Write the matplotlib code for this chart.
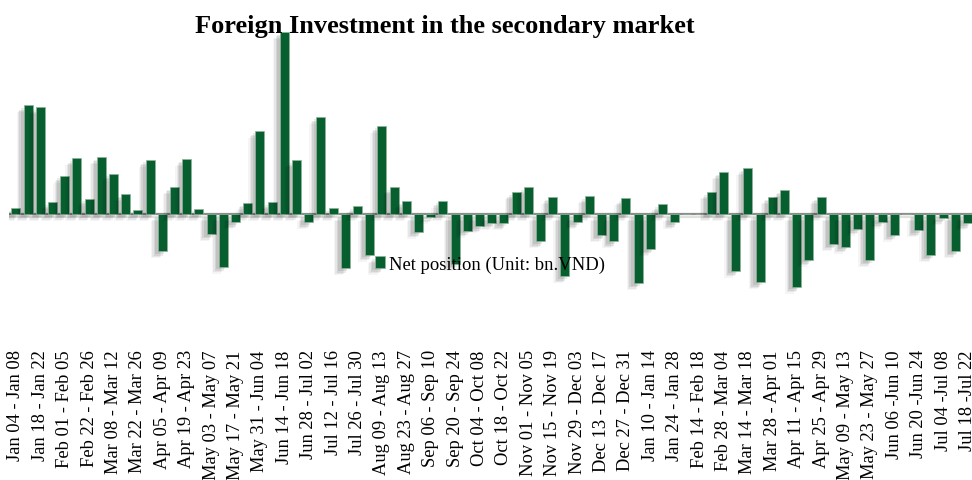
import matplotlib
matplotlib.use("Agg")
import matplotlib.pyplot as plt
import matplotlib.patheffects as pe
import numpy as np

plt.rcParams['font.family'] = ['Liberation Serif', 'DejaVu Serif']

weeks = [
    "Jan 04 - Jan 08", "Jan 11 - Jan 15", "Jan 18 - Jan 22", "Jan 25 - Jan 29",
    "Feb 01 - Feb 05", "Feb 08 - Feb 12", "Feb 22 - Feb 26", "Mar 01 - Mar 05",
    "Mar 08 - Mar 12", "Mar 15 - Mar 19", "Mar 22 - Mar 26", "Mar 29 - Apr 02",
    "Apr 05 - Apr 09", "Apr 12 - Apr 16", "Apr 19 - Apr 23", "Apr 26 - Apr 30",
    "May 03 - May 07", "May 10 - May 14", "May 17 - May 21", "May 24 - May 28",
    "May 31 - Jun 04", "Jun 07 - Jun 11", "Jun 14 - Jun 18", "Jun 21 - Jun 25",
    "Jun 28 - Jul 02", "Jul 05 - Jul 09", "Jul 12 - Jul 16", "Jul 19 - Jul 23",
    "Jul 26 - Jul 30", "Aug 02 - Aug 06", "Aug 09 - Aug 13", "Aug 16 - Aug 20",
    "Aug 23 - Aug 27", "Aug 30 - Sep 03", "Sep 06 - Sep 10", "Sep 13 - Sep 17",
    "Sep 20 - Sep 24", "Sep 27 - Oct 01", "Oct 04 - Oct 08", "Oct 11 - Oct 15",
    "Oct 18 - Oct 22", "Oct 25 - Oct 29", "Nov 01 - Nov 05", "Nov 08 - Nov 12",
    "Nov 15 - Nov 19", "Nov 22 - Nov 26", "Nov 29 - Dec 03", "Dec 06 - Dec 10",
    "Dec 13 - Dec 17", "Dec 20 - Dec 24", "Dec 27 - Dec 31", "Jan 03 - Jan 07",
    "Jan 10 - Jan 14", "Jan 17 - Jan 21", "Jan 24 - Jan 28", "Feb 07 - Feb 11",
    "Feb 14 - Feb 18", "Feb 21 - Feb 25", "Feb 28 - Mar 04", "Mar 07 - Mar 11",
    "Mar 14 - Mar 18", "Mar 21 - Mar 25", "Mar 28 - Apr 01", "Apr 04 - Apr 08",
    "Apr 11 - Apr 15", "Apr 18 - Apr 22", "Apr 25 - Apr 29", "May 02 - May 06",
    "May 09 - May 13", "May 16 - May 20", "May 23 - May 27", "May 30 - Jun 03",
    "Jun 06 -Jun 10", "Jun 13 -Jun 17", "Jun 20 -Jun 24", "Jun 27 -Jul 01",
    "Jul 04 -Jul 08", "Jul 11 -Jul 15", "Jul 18 -Jul 22",
]

net_position = [
    90, 1630, 1600, 175, 575, 835, 230, 855, 605, 300,
    65, 815, -560, 405, 825, 80, -300, -790, -125, 165,
    1250, 175, 2730, 805, -125, 1460, 85, -815, 115, -610,
    1325, 400, 195, -265, -40, 200, -750, -250, -185, -135,
    -140, 325, 400, -410, 255, -935, -125, 265, -315, -410,
    235, -1035, -525, 145, -125, 0, 0, 325, 630, -850,
    690, -1025, 255, 360, -1090, -685, 255, -450, -490, -220,
    -690, -115, -310, 0, -245, -615, -60, -555, -140,
]

title = "Foreign Investment in the secondary market"
legend_label = "Net position (Unit: bn.VND)"
bar_color = "#075e2f"

W, H = 972, 481
fig = plt.figure(figsize=(W / 100, H / 100), dpi=100)
ax_left, ax_right = 9 / W, 974.5 / W
ax_top, ax_bottom = 1 - 30 / H, 1 - 346 / H
ax = fig.add_axes([ax_left, ax_bottom, ax_right - ax_left, ax_top - ax_bottom])

x = np.arange(len(weeks))
shadow = [
    pe.SimplePatchShadow(offset=(-5, -5), shadow_rgbFace="#000000", alpha=0.04),
    pe.SimplePatchShadow(offset=(-4, -4), shadow_rgbFace="#000000", alpha=0.06),
    pe.SimplePatchShadow(offset=(-3, -3), shadow_rgbFace="#000000", alpha=0.08),
    pe.SimplePatchShadow(offset=(-2, -2), shadow_rgbFace="#000000", alpha=0.08),
    pe.Normal(),
]
bars = ax.bar(x, net_position, width=0.74, color=bar_color,
              edgecolor="#8fb59a", linewidth=0.5, label=legend_label, zorder=3)
for b in bars:
    b.set_path_effects(shadow)

ax.axhline(0, color="#8c8c8c", linewidth=1.6, zorder=2,
           path_effects=[pe.SimpleLineShadow(offset=(-2, -2.5), alpha=0.12), pe.Normal()])

ax.set_xlim(-0.57, 78.57)
ax.set_ylim(-1965, 2775)

ax.set_xticks(x[::2])
ax.set_xticklabels(weeks[::2], rotation=90, fontsize=13.3)
ax.tick_params(axis="x", length=0, pad=3)
ax.set_yticks([])
for s in ax.spines.values():
    s.set_visible(False)
ax.patch.set_alpha(0)

fig.text(445 / W, 1 - 27 / H, title, ha="center", va="center",
         fontsize=19, fontweight="bold")

leg = ax.legend(loc="center", bbox_to_anchor=(490 / W, 1 - 265 / H),
                bbox_transform=fig.transFigure, frameon=False, fontsize=13.4,
                handlelength=0.55, handleheight=0.55, handletextpad=0.2)

fig.savefig("out.png", dpi=100)
